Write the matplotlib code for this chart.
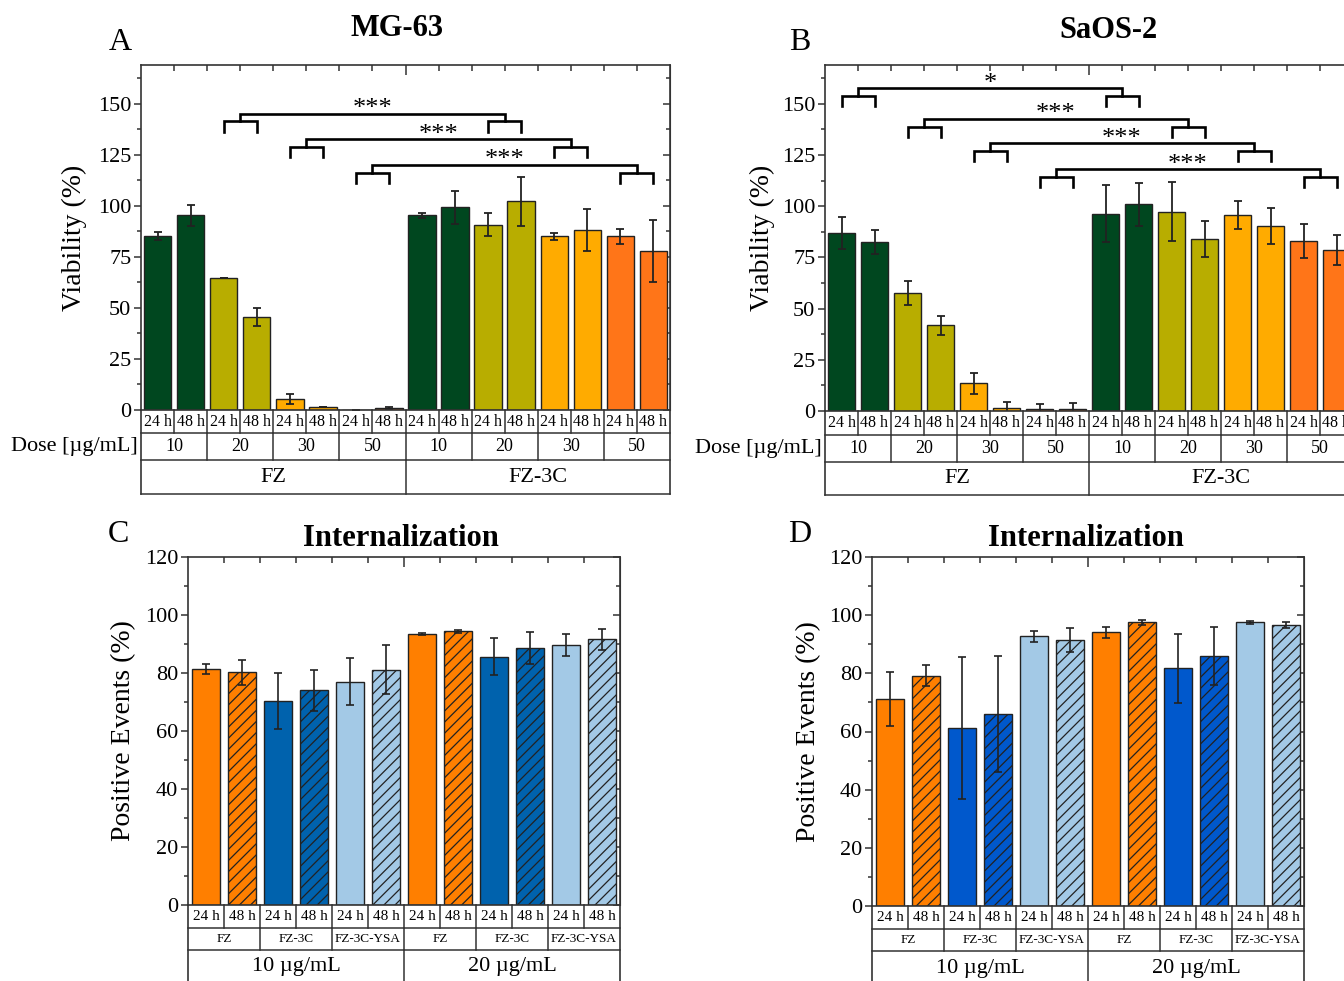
import numpy as np
import matplotlib.pyplot as plt
from matplotlib.ticker import MultipleLocator
from matplotlib.transforms import blended_transform_factory

plt.rcParams['font.family'] = ['Liberation Serif', 'DejaVu Serif']
plt.rcParams['hatch.linewidth'] = 0.9

# ---- viability data (panels A, B) ----
hours = ['24 h', '48 h']
doses = ['10', '20', '30', '50']
drugs = ['FZ', 'FZ-3C']
dose_colors = ['#00471f', '#b8ad00', '#ffab00', '#ff7518']

mg63_mean = [85.2, 95.3, 64.8, 45.7, 5.4, 1.3, 0.0, 0.8,
             95.3, 99.3, 90.7, 102.3, 85.0, 88.4, 85.0, 78.0]
mg63_err = [1.8, 5.2, 0.0, 4.5, 2.3, 0.0, 0.0, 0.5,
            1.3, 8.2, 5.7, 12.0, 1.9, 10.3, 3.8, 15.3]
saos2_mean = [86.9, 82.7, 57.6, 41.9, 13.6, 1.3, 0.8, 1.2,
              96.4, 101.0, 97.4, 83.8, 95.6, 90.5, 82.9, 78.8]
saos2_err = [7.8, 5.8, 6.0, 4.7, 5.1, 3.0, 2.6, 2.8,
             13.8, 10.4, 14.5, 8.8, 6.8, 8.7, 8.3, 7.3]

# (first bar of FZ pair, first bar of FZ-3C pair, label, bracket level)
mg63_sig = [(2, 10, '***', 141.4), (4, 12, '***', 128.9), (6, 14, '***', 116.3)]
saos2_sig = [(0, 8, '*', 153.9), (2, 10, '***', 138.9),
             (4, 12, '***', 126.9), (6, 14, '***', 114.3)]

# ---- internalization data (panels C, D) ----
samples = ['FZ', 'FZ-3C', 'FZ-3C-YSA']
concs = ['10 µg/mL', '20 µg/mL']
sample_colors_c = ['#ff7f00', '#0062ad', '#a3c9e6']
sample_colors_d = ['#ff7f00', '#0058cc', '#a3c9e6']

mg63_int_mean = [81.4, 80.2, 70.3, 74.1, 77.0, 81.1, 93.4, 94.4, 85.6, 88.5, 89.7, 91.7]
mg63_int_err = [1.6, 4.2, 9.7, 7.1, 8.2, 8.4, 0.4, 0.6, 6.3, 5.5, 3.9, 3.6]
saos2_int_mean = [71.2, 79.1, 61.2, 66.0, 92.7, 91.4, 94.1, 97.5, 81.7, 85.9, 97.5, 96.7]
saos2_int_err = [9.3, 3.6, 24.4, 20.0, 1.9, 4.1, 2.0, 0.8, 11.9, 10.0, 0.6, 1.0]

LINE = '#333333'


def style_axes(ax, n, ymax, major, minor):
    ax.set_xlim(-0.5, n - 0.5)
    ax.set_ylim(0, ymax)
    for sp in ax.spines.values():
        sp.set_color(LINE)
        sp.set_linewidth(1.2)
    ax.yaxis.set_major_locator(MultipleLocator(major))
    ax.yaxis.set_minor_locator(MultipleLocator(minor))
    ax.tick_params(axis='y', which='both', direction='out', labelsize=16,
                   color=LINE, width=1.1, right=False, pad=2)
    ax.tick_params(axis='y', which='major', length=5)
    ax.tick_params(axis='y', which='minor', length=3)
    right = ax.secondary_yaxis('right')
    right.yaxis.set_major_locator(MultipleLocator(major))
    right.yaxis.set_minor_locator(MultipleLocator(minor))
    right.tick_params(which='both', direction='in', labelright=False, color=LINE, width=1.1)
    right.tick_params(which='major', length=5)
    right.tick_params(which='minor', length=3)
    right.spines['right'].set_color(LINE)
    ax.set_xticks([n / 2 - 0.5])
    ax.set_xticks(np.arange(0.5, n - 1, 1), minor=True)
    ax.tick_params(axis='x', which='both', bottom=False, top=True, direction='in',
                   labelbottom=False, labeltop=False, color=LINE, width=1.1)
    ax.tick_params(axis='x', which='major', length=7)
    ax.tick_params(axis='x', which='minor', length=4)


def draw_table(ax, rows, bottoms, sizes):
    tr = blended_transform_factory(ax.transData, ax.transAxes)
    n = len(rows[0])
    top = 0
    for labels, bot, fs in zip(rows, bottoms, sizes):
        span = n / len(labels)
        for i, lab in enumerate(labels):
            x0 = -0.5 + i * span
            ax.text(x0 + span / 2, (top + bot) / 2, lab, transform=tr, ha='center',
                    va='center', fontsize=fs, clip_on=False)
            if i > 0:
                ax.plot([x0, x0], [top, bot], transform=tr, color=LINE, lw=1.1, clip_on=False)
        ax.plot([-0.5, n - 0.5], [bot, bot], transform=tr, color=LINE, lw=1.1, clip_on=False)
        top = bot
    for x in (-0.5, n - 0.5):
        ax.plot([x, x], [0, top], transform=tr, color=LINE, lw=1.2, clip_on=False)
    return tr


def draw_sig(ax, sig):
    for a, b, label, h in sig:
        for s in (a, b):
            ax.plot([s, s, s + 1, s + 1], [h - 5, h, h, h - 5], color='k', lw=1.9,
                    solid_joinstyle='miter')
        top = h + 3.8
        ax.plot([a + 0.5, a + 0.5, b + 0.5, b + 0.5], [h, top, top, h], color='k',
                lw=1.9, solid_joinstyle='miter')
        ax.text((a + b) / 2 + 0.5, top - 0.8, label, ha='center', va='baseline', fontsize=19)


def viability_panel(ax, mean, err, sig):
    n = len(mean)
    x = np.arange(n)
    colors = [dose_colors[(i // 2) % 4] for i in range(n)]
    ax.bar(x, mean, width=0.83, color=colors, edgecolor='#222222', linewidth=1)
    ax.errorbar(x, mean, yerr=err, fmt='none', ecolor='#222222', elinewidth=1.3,
                capsize=3, capthick=1.3)
    style_axes(ax, n, 169, 25, 12.5)
    draw_sig(ax, sig)
    tr = draw_table(ax, [hours * 8, doses * 2, drugs], [-0.068, -0.146, -0.243], [11.5, 13, 16])
    ax.text(-0.6, -0.107, 'Dose [µg/mL]', transform=tr, ha='right', va='center',
            fontsize=16, clip_on=False)
    ax.set_ylabel('Viability (%)', fontsize=20, va='center')


def internal_panel(ax, mean, err, colors3):
    n = len(mean)
    x = np.arange(n)
    colors = [colors3[(i // 2) % 3] for i in range(n)]
    hatches = ['', '///'] * (n // 2)
    for xi, m, c, h in zip(x, mean, colors, hatches):
        ax.bar(xi, m, width=0.8, color=c, edgecolor='#222222', linewidth=1, hatch=h)
    ax.errorbar(x, mean, yerr=err, fmt='none', ecolor='#222222', elinewidth=1.2,
                capsize=3, capthick=1.2)
    style_axes(ax, n, 120, 20, 10)
    draw_table(ax, [hours * 6, samples * 2, concs], [-0.066, -0.129, -0.227], [11, 9.5, 16])
    ax.set_ylabel('Positive Events (%)', fontsize=20, va='center')


fig = plt.figure(figsize=(13.44, 9.81), dpi=100)
W, H = 1344, 981
axA = fig.add_axes([141 / W, 1 - 410 / H, 529 / W, 345 / H])
axB = fig.add_axes([825 / W, 1 - 411 / H, 528 / W, 346 / H])
axC = fig.add_axes([188 / W, 1 - 905 / H, 432 / W, 348 / H])
axD = fig.add_axes([872 / W, 1 - 906 / H, 432 / W, 349 / H])

viability_panel(axA, mg63_mean, mg63_err, mg63_sig)
viability_panel(axB, saos2_mean, saos2_err, saos2_sig)
internal_panel(axC, mg63_int_mean, mg63_int_err, sample_colors_c)
internal_panel(axD, saos2_int_mean, saos2_int_err, sample_colors_d)

axA.yaxis.set_label_coords(-0.126, 0.5)
axB.yaxis.set_label_coords(-0.119, 0.5)
axC.yaxis.set_label_coords(-0.149, 0.5)
axD.yaxis.set_label_coords(-0.147, 0.5)

fig.text(397 / W, 1 - 29 / H, 'MG-63', ha='center', va='center', fontsize=22, fontweight='bold')
fig.text(1108 / W, 1 - 31 / H, 'SaOS-2', ha='center', va='center', fontsize=22, fontweight='bold')
fig.text(401 / W, 1 - 539 / H, 'Internalization', ha='center', va='center', fontsize=22, fontweight='bold')
fig.text(1086 / W, 1 - 539 / H, 'Internalization', ha='center', va='center', fontsize=22, fontweight='bold')
for lab, px, py in [('A', 120, 43), ('B', 800, 43), ('C', 118, 535), ('D', 800, 535)]:
    fig.text(px / W, 1 - py / H, lab, ha='center', va='center', fontsize=23)

fig.savefig('out.png', dpi=100, facecolor='white')
